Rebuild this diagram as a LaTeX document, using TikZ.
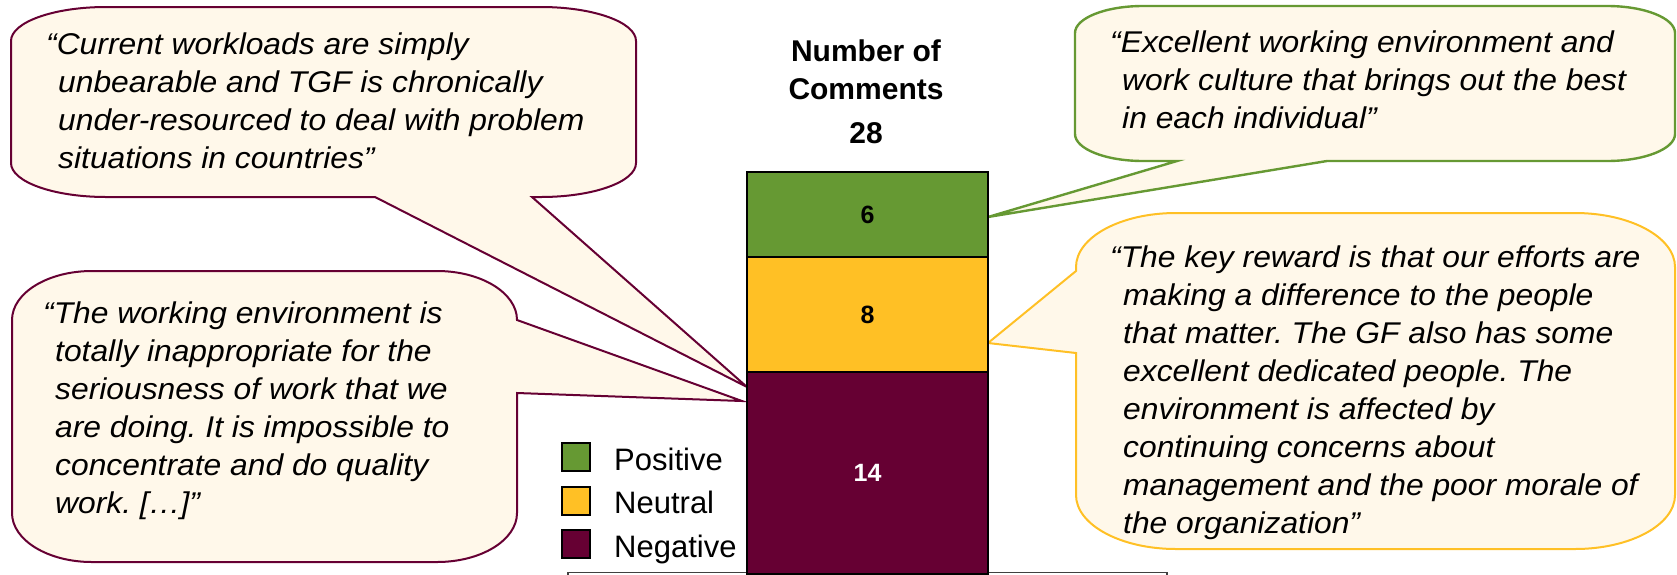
\documentclass[tikz,border=0pt]{standalone}
\usepackage{fontspec}
\setmainfont{Liberation Sans}
\newfontfamily\qfont{Liberation Sans}[FakeStretch=1.06]
\definecolor{posg}{RGB}{102,153,51}
\definecolor{neuy}{RGB}{255,192,37}
\definecolor{negm}{RGB}{102,0,51}
\definecolor{cream}{RGB}{255,248,234}
\frenchspacing
\begin{document}
\begin{tikzpicture}[x=1pt,y=-1pt,
  bubble/.style={fill=cream, line width=2pt, line join=miter},
  qtext/.style={inner sep=0pt, align=left, anchor=base west,
    font=\qfont\itshape\fontsize{30}{38}\selectfont},
  seg/.style={draw=black, line width=2.2pt, minimum width=241pt, inner sep=0pt,
    font=\bfseries\fontsize{25}{30}\selectfont},
  legbox/.style={draw=black, line width=2pt, minimum size=28pt, inner sep=0pt},
  legtext/.style={inner sep=0pt, anchor=base west, font=\fontsize{31}{37}\selectfont},
  ttl/.style={inner sep=0pt, anchor=base, align=center, font=\bfseries\fontsize{30}{38}\selectfont},
]
\useasboundingbox (0,0) rectangle (1677,574);

% tail tips on the bar edges
\coordinate (tipTL) at (747,387);
\coordinate (tipBL) at (742,401);
\coordinate (tipG) at (988,217);
\coordinate (tipY) at (988,343);

% axis frame line (behind bar)
\draw[line width=1.5pt, black!75] (568,580) -- (568,572.5) -- (1167,572.5) -- (1167,580);

% top-left bubble
\draw[bubble, draw=negm] (11,41) arc[start angle=180, end angle=270, x radius=95, y radius=34]
  -- (541,7) arc[start angle=270, end angle=360, x radius=95, y radius=34]
  -- (636,163) arc[start angle=0, end angle=90, x radius=95, y radius=34]
  -- (532,197) -- (tipTL) -- (375,197)
  -- (106,197) arc[start angle=90, end angle=180, x radius=95, y radius=34] -- cycle;

% bottom-left bubble
\draw[bubble, draw=negm] (12,320) arc[start angle=180, end angle=270, x radius=80, y radius=49]
  -- (437,271) arc[start angle=270, end angle=360, x radius=80, y radius=49]
  -- (tipBL) -- (517,393)
  -- (517,513) arc[start angle=0, end angle=90, x radius=80, y radius=49]
  -- (92,562) arc[start angle=90, end angle=180, x radius=80, y radius=49] -- cycle;

% green bubble
\draw[bubble, draw=posg, line width=2.4pt] (1075,33) arc[start angle=180, end angle=270, x radius=68, y radius=27]
  -- (1607,6) arc[start angle=270, end angle=360, x radius=68, y radius=27]
  -- (1675,134) arc[start angle=0, end angle=90, x radius=68, y radius=27]
  -- (1327,161) -- (tipG) -- (1177,161)
  -- (1143,161) arc[start angle=90, end angle=180, x radius=68, y radius=27] -- cycle;

% yellow bubble
\draw[bubble, draw=neuy] (1076,267) arc[start angle=180, end angle=270, x radius=100, y radius=54]
  -- (1575,213) arc[start angle=270, end angle=360, x radius=100, y radius=54]
  -- (1675,495) arc[start angle=0, end angle=90, x radius=100, y radius=54]
  -- (1176,549) arc[start angle=90, end angle=180, x radius=100, y radius=54]
  -- (1076,353) -- (tipY) -- (1076,271) -- cycle;

% quote texts (anchored at the baseline of their last line)
\node[qtext] (qTL) at (46,168) {“Current workloads are simply\\
\hspace*{12pt}unbearable and TGF is chronically\\
\hspace*{12pt}under-resourced to deal with problem\\
\hspace*{12pt}situations in countries”};

\node[qtext] (qBL) at (43,513) {“The working environment is\\
\hspace*{12pt}totally inappropriate for the\\
\hspace*{12pt}seriousness of work that we\\
\hspace*{12pt}are doing. It is impossible to\\
\hspace*{12pt}concentrate and do quality\\
\hspace*{12pt}work. […]”};

\node[qtext] (qG) at (1110,128) {“Excellent working environment and\\
\hspace*{12pt}work culture that brings out the best\\
\hspace*{12pt}in each individual”};

\node[qtext] (qY) at (1110,533) {“The key reward is that our efforts are\\
\hspace*{13pt}making a difference to the people\\
\hspace*{13pt}that matter. The GF also has some\\
\hspace*{13pt}excellent dedicated people. The\\
\hspace*{13pt}environment is affected by\\
\hspace*{13pt}continuing concerns about\\
\hspace*{13pt}management and the poor morale of\\
\hspace*{13pt}the organization”};

% bar
\node[seg, fill=posg, minimum height=85pt] (pos) at (867.5,214.5) {6};
\node[seg, fill=neuy, minimum height=115pt] (neu) at (867.5,314.5) {8};
\node[seg, fill=negm, text=white, minimum height=202pt] (neg) at (867.5,473) {14};

% title
\node[ttl] (title) at (866,99) {Number of\\Comments};
\node[ttl] (total) at (866,143) {28};

% legend
\node[legbox, fill=posg] (lp) at (576,457) {};
\node[legbox, fill=neuy] (ln) at (576,501) {};
\node[legbox, fill=negm] (lng) at (576,544) {};
\node[legtext] (tp) at (614,470) {Positive};
\node[legtext] (tn) at (614,513) {Neutral};
\node[legtext] (tng) at (614,557) {Negative};
\end{tikzpicture}
\end{document}
